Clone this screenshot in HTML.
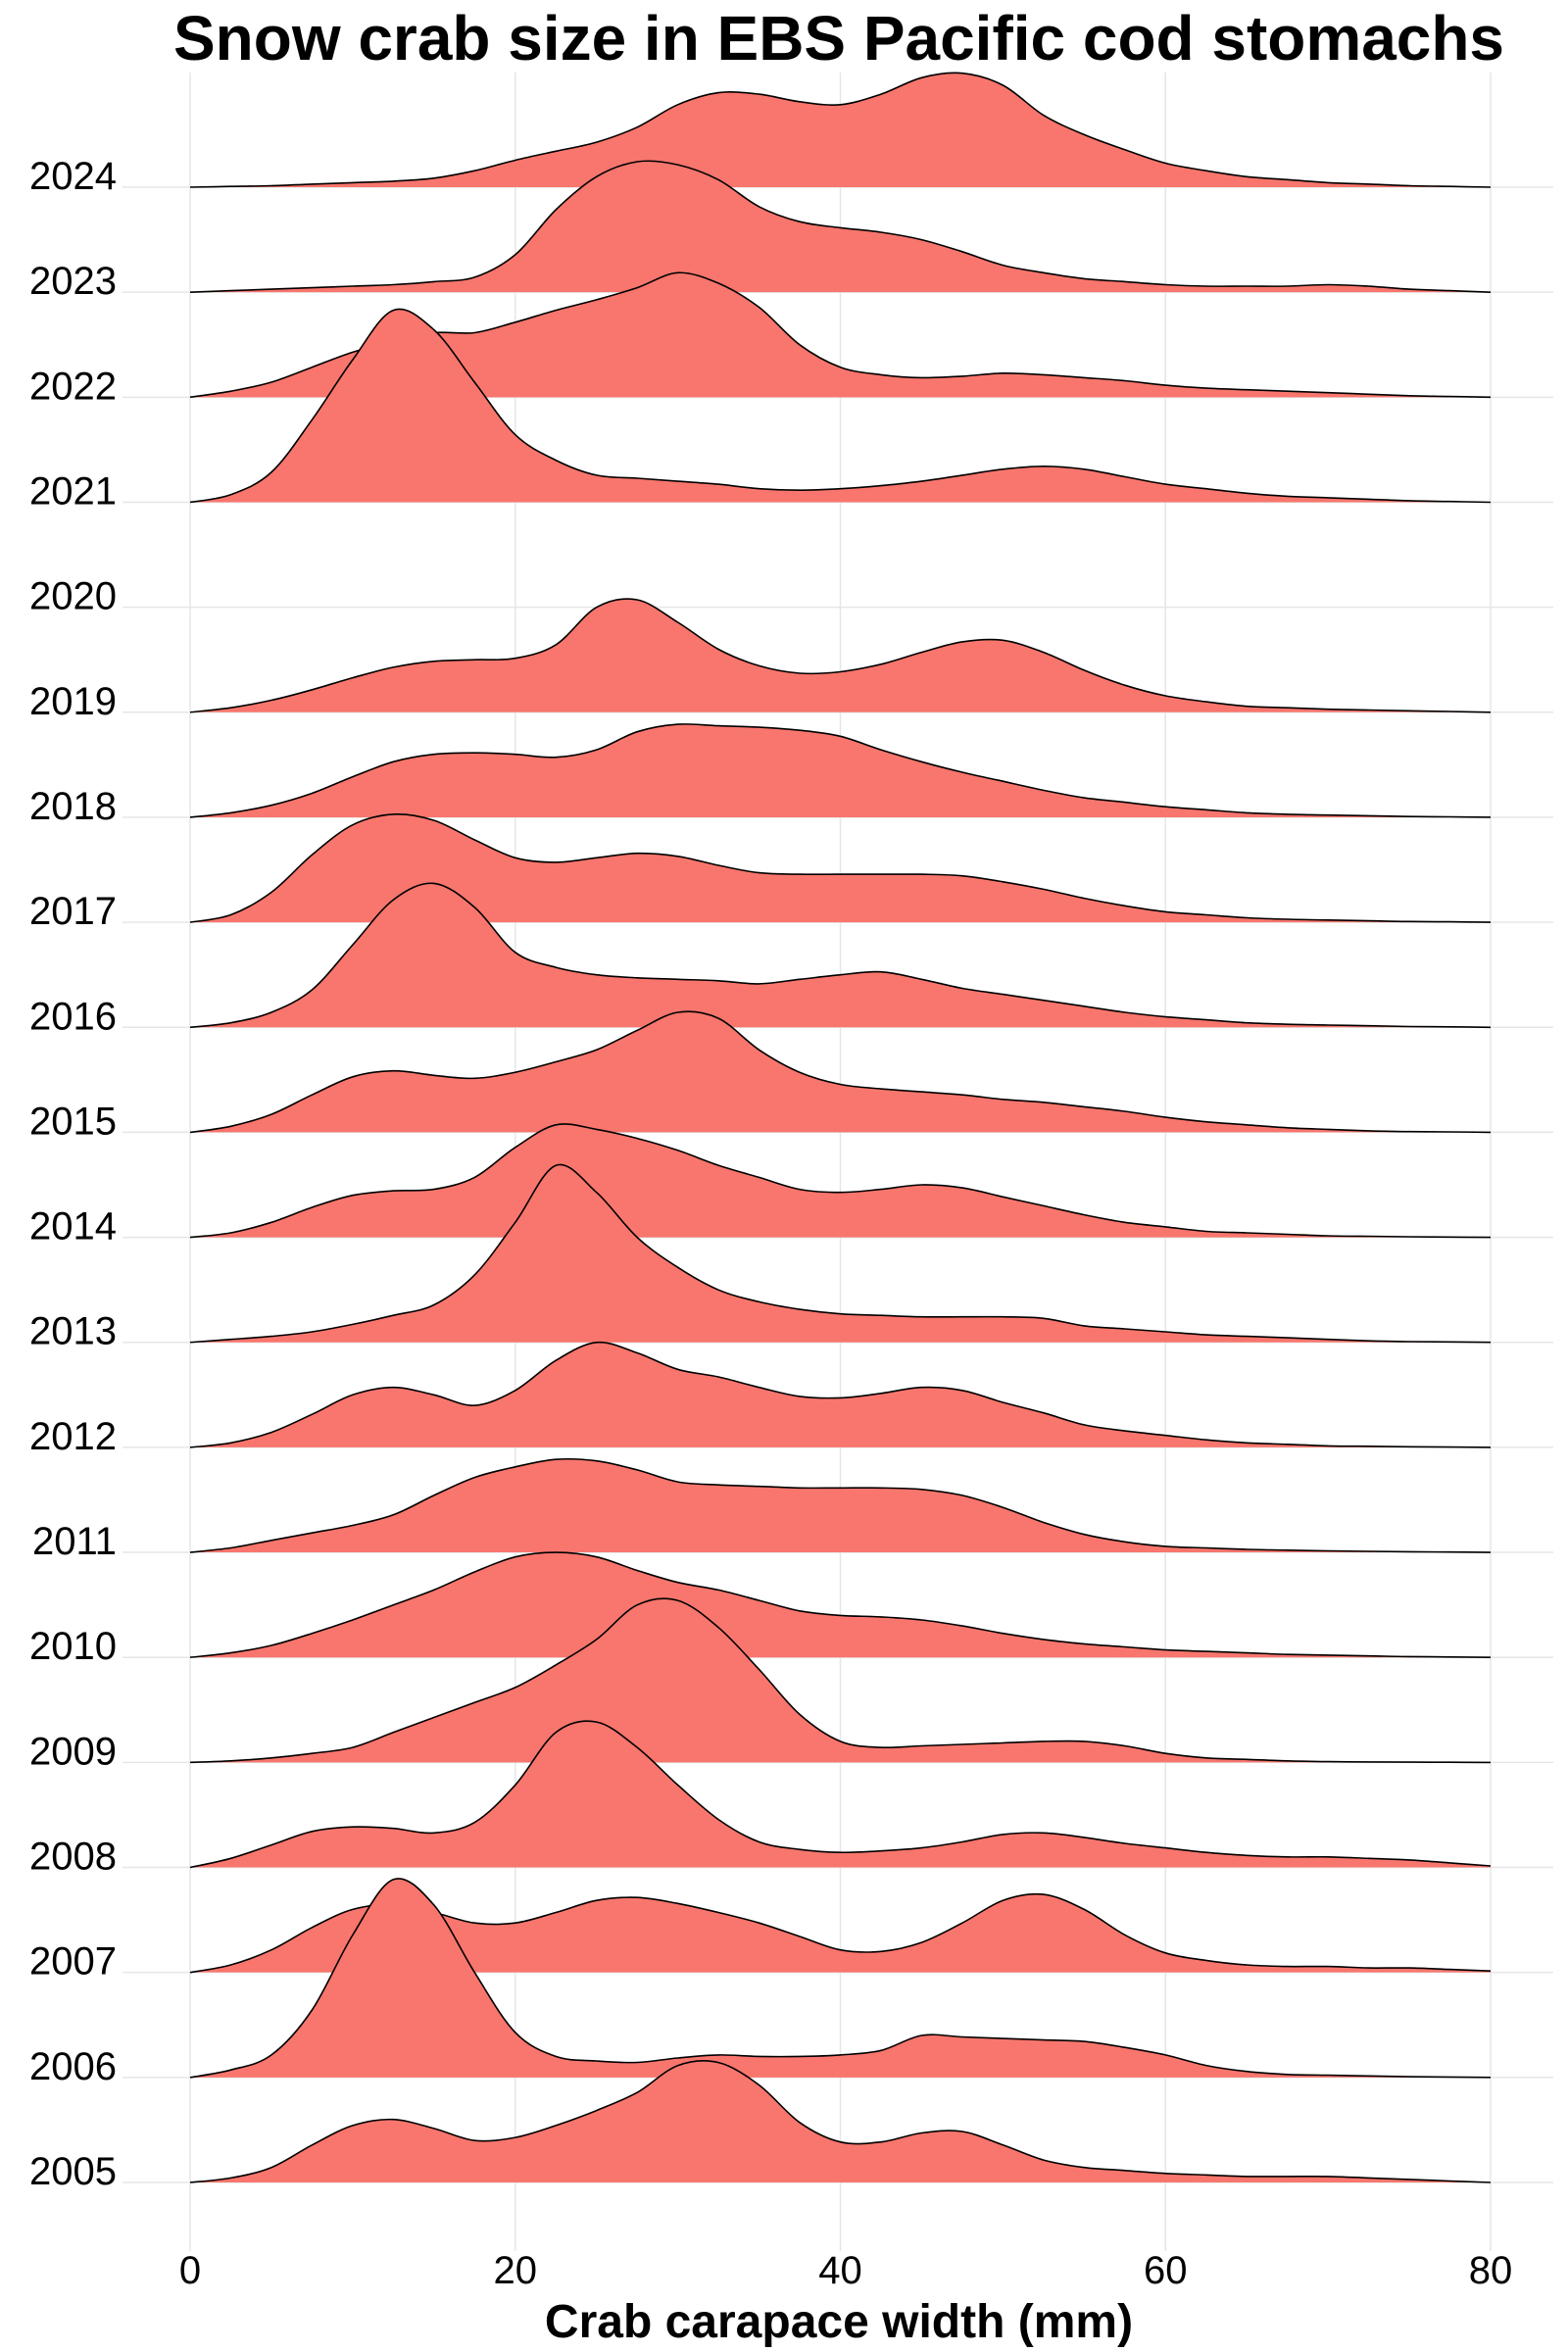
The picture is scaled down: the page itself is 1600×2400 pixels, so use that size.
<!DOCTYPE html>
<html><head><meta charset="utf-8"><style>
html,body{margin:0;padding:0;background:#fff}
svg{display:block}
text{font-family:"Liberation Sans",sans-serif}
</style></head><body>
<svg id="chart" width="1600" height="2400" viewBox="0 0 1600 2400">
<text x="856" y="61" text-anchor="middle" font-size="64" font-weight="bold" textLength="1358" lengthAdjust="spacingAndGlyphs">Snow crab size in EBS Pacific cod stomachs</text>
<g id="grid"></g>
<g id="ridges"></g>
<g id="axes"></g>
<text x="856" y="2385" text-anchor="middle" font-size="48" font-weight="bold">Crab carapace width (mm)</text>
</svg>
<script>
const years = [2024,2023,2022,2021,2020,2019,2018,2017,2016,2015,2014,2013,2012,2011,2010,2009,2008,2007,2006,2005];
const xValues = [0,2.5,5,7.5,10,12.5,15,17.5,20,22.5,25,27.5,30,32.5,35,37.5,40,42.5,45,47.5,50,52.5,55,57.5,60,62.5,65,67.5,70,72.5,75,77.5,80];
const xTicks = [0,20,40,60,80];
const d2024 = [0,0.5,1,2,3,4,6,11,18,24,30,40,55,63,62,57,55,62,73,76,68,48,35,25,16,11,7,5,3,2,1,0.5,0];
const d2023 = [0,1,2,3,4,5,7,10,25,55,77,87,85,75,57,47,43,40,35,27,18,13,9,7,5,4,4,4,5,4,2,1,0];
const d2022 = [0,4,10,20,30,37,43,43,50,58,65,73,83,76,60,35,20,15,13,14,16,15,13,11,8,6,5,4,3,2,1,0.5,0];
const d2021 = [0,5,20,55,95,128,115,80,45,28,18,16,14,12,9,8,9,11,14,18,22,24,22,17,12,9,6,4,3,2,1,0.5,0];
const d2020 = [];
const d2019 = [0,3,8,15,23,30,34,35,36,45,70,75,60,42,31,26,27,32,40,47,48,40,28,18,11,7,4,3,2,1.5,1,0.5,0];
const d2018 = [0,3,8,16,27,37,42,43,42,40,45,57,62,61,60,58,54,45,37,30,24,18,13,10,7,5,3,2,1.5,1,0.5,0.3,0];
const d2017 = [0,5,20,45,65,72,68,55,43,40,43,46,44,38,33,32,32,32,32,31,27,22,16,11,7,5,3,2,1.5,1,0.5,0.3,0];
const d2016 = [0,3,10,25,55,85,96,80,50,40,35,33,32,31,29,32,35,37,32,26,22,18,14,10,7,5,3,2,1.5,1,0.5,0.3,0];
const d2015 = [0,4,12,25,37,41,38,36,40,47,55,68,80,76,55,40,32,29,27,25,22,20,17,14,10,7,5,3,2,1,0.5,0.3,0];
const d2014 = [0,3,10,20,28,31,32,40,60,75,72,66,58,48,40,32,30,32,35,33,27,21,15,10,7,4,3,2,1,0.7,0.4,0.2,0];
const d2013 = [0,2,4,7,12,18,25,45,80,118,100,70,50,35,27,22,19,18,17,17,17,16,11,9,7,5,4,3,2,1,0.5,0.3,0];
const d2012 = [0,3,10,22,35,40,35,28,38,58,70,63,52,47,40,34,33,36,40,38,30,23,15,11,8,5,3,2,1,0.7,0.4,0.2,0];
const d2011 = [0,3,8,13,18,25,38,50,57,62,61,55,47,45,44,43,43,43,42,38,30,20,12,7,4,3,2,1.5,1,0.7,0.4,0.2,0];
const d2010 = [0,3,8,16,25,35,45,57,67,70,67,58,50,45,38,31,28,27,25,21,16,12,9,7,5,4,3,2,1.5,1,0.5,0.3,0];
const d2009 = [0,1,3,6,10,20,30,40,50,65,82,105,108,90,62,32,14,10,11,12,13,14,14,11,6,3,2,1,0.5,0.3,0.2,0.1,0];
const d2008 = [0,6,15,24,27,26,23,30,55,90,97,80,55,32,17,12,10,11,13,17,22,23,20,16,13,10,8,7,7,6,5,3,1];
const d2007 = [0,5,15,30,42,45,40,33,33,40,48,50,46,40,33,24,15,14,20,33,48,52,42,25,13,8,5,4,4,3,3,2,1];
const d2006 = [0,5,15,45,95,132,115,70,30,14,11,10,13,15,14,14,15,18,28,27,26,25,24,20,15,8,4,2,1.5,1,0.5,0.3,0];
const d2005 = [0,3,10,25,38,42,36,28,30,38,48,60,78,80,65,40,27,27,33,34,25,15,10,8,6,5,4,4,4,3,2,1,0];
const series = [d2024,d2023,d2022,d2021,d2020,d2019,d2018,d2017,d2016,d2015,d2014,d2013,d2012,d2011,d2010,d2009,d2008,d2007,d2006,d2005];

const NS = "http://www.w3.org/2000/svg";
const X0 = 194, X1 = 1521, XMIN = 0, XMAX = 80;
const xScale = v => X0 + (v - XMIN) / (XMAX - XMIN) * (X1 - X0);
const BASE_TOP = 191, BASE_BOT = 2227;
const rowBase = i => BASE_TOP + i * (BASE_BOT - BASE_TOP) / (years.length - 1);
const hScale = v => v * 1.53;

function mk(tag, attrs, parent){const e=document.createElementNS(NS,tag);for(const k in attrs)e.setAttribute(k,attrs[k]);parent.appendChild(e);return e;}

const grid = document.getElementById('grid');
xTicks.forEach(t=>{
  const l = mk('line',{x1:xScale(t),x2:xScale(t),y1:74,y2:2297,stroke:'#e6e6e6','stroke-width':1.5},grid);
  
  
});
years.forEach((y,i)=>{
  const l = mk('line',{x1:125,x2:1585,y1:rowBase(i),y2:rowBase(i),stroke:'#e6e6e6','stroke-width':1.5},grid);
  
  
});

function curvePath(pts){
  let d = 'M'+pts[0][0]+','+pts[0][1];
  for(let i=0;i<pts.length-1;i++){
    const p0=pts[Math.max(0,i-1)],p1=pts[i],p2=pts[i+1],p3=pts[Math.min(pts.length-1,i+2)];
    const c1x=p1[0]+(p2[0]-p0[0])/6,c1y=p1[1]+(p2[1]-p0[1])/6;
    const c2x=p2[0]-(p3[0]-p1[0])/6,c2y=p2[1]-(p3[1]-p1[1])/6;
    d+=' C'+c1x.toFixed(1)+','+c1y.toFixed(1)+' '+c2x.toFixed(1)+','+c2y.toFixed(1)+' '+p2[0].toFixed(1)+','+p2[1].toFixed(1);
  }
  return d;
}

const ridges = document.getElementById('ridges');
series.forEach((s,i)=>{
  if(!s.length) return;
  const b = rowBase(i);
  const pts = s.map((v,j)=>[xScale(xValues[j]), b - hScale(v)]);
  const line = curvePath(pts);
  const g = mk('g',{},ridges);
  
  
  const area = mk('path',{d: line+' L'+xScale(xValues[xValues.length-1])+','+b+' L'+xScale(xValues[0])+','+b+' Z',fill:'#F8766D',stroke:'none'},g);
  
  
  const ln = mk('path',{d:line,fill:'none',stroke:'#000','stroke-width':1.6},g);
  
  
});

const axes = document.getElementById('axes');
years.forEach((y,i)=>{
  const t = mk('text',{x:119,y:rowBase(i)+2,'text-anchor':'end','font-size':40},axes);
  t.textContent = y;
  
  
});
xTicks.forEach(v=>{
  const t = mk('text',{x:xScale(v),y:2330,'text-anchor':'middle','font-size':40},axes);
  t.textContent = v;
  
  
});
</script>
</body></html>
